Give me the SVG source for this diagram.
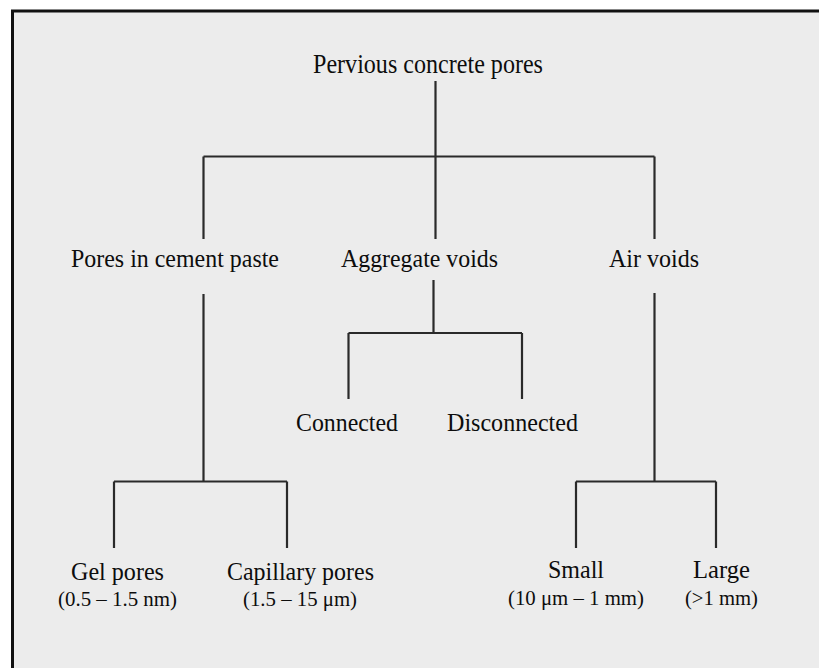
<svg xmlns="http://www.w3.org/2000/svg" width="819" height="668" viewBox="0 0 819 668">
  <style>
    text { font-family: "Liberation Serif", "Times New Roman", serif; fill: #0d0d0d; text-anchor: middle; }
    .t0 { font-size: 27px; }
    .t1 { font-size: 26px; }
    .t2 { font-size: 25px; }
    .t3 { font-size: 22px; }
    .conn line { stroke: #2a2a2a; stroke-width: 2.2; fill: none; }
  </style>
  <rect x="0" y="0" width="819" height="668" fill="#ffffff"/>
  <rect x="12.5" y="11" width="820" height="670" fill="#ececec" stroke="#111" stroke-width="3"/>

  <g id="connectors" class="conn">
    <line x1="435.5" y1="81" x2="435.5" y2="239"/>
    <line x1="203.5" y1="156.5" x2="654.5" y2="156.5"/>
    <line x1="203.5" y1="156.5" x2="203.5" y2="239"/>
    <line x1="654.5" y1="156.5" x2="654.5" y2="239"/>

    <line x1="203.5" y1="294" x2="203.5" y2="481.5"/>
    <line x1="114" y1="481.5" x2="287" y2="481.5"/>
    <line x1="114" y1="481.5" x2="114" y2="548"/>
    <line x1="287" y1="481.5" x2="287" y2="548"/>

    <line x1="433.5" y1="280" x2="433.5" y2="333"/>
    <line x1="348.5" y1="333" x2="522" y2="333"/>
    <line x1="348.5" y1="333" x2="348.5" y2="399"/>
    <line x1="522" y1="333" x2="522" y2="399"/>

    <line x1="654.5" y1="293" x2="654.5" y2="481.5"/>
    <line x1="576" y1="481.5" x2="716" y2="481.5"/>
    <line x1="576" y1="481.5" x2="576" y2="548"/>
    <line x1="716" y1="481.5" x2="716" y2="548"/>
  </g>

  <g id="root"><text class="t0" x="428" y="73" textLength="230" lengthAdjust="spacingAndGlyphs">Pervious concrete pores</text></g>
  <g id="cement"><text class="t1" x="175" y="267" textLength="208" lengthAdjust="spacingAndGlyphs">Pores in cement paste</text></g>
  <g id="aggregate"><text class="t1" x="419.5" y="267" textLength="157" lengthAdjust="spacingAndGlyphs">Aggregate voids</text></g>
  <g id="air"><text class="t1" x="654" y="267" textLength="90" lengthAdjust="spacingAndGlyphs">Air voids</text></g>
  <g id="connected"><text class="t1" x="347" y="431" textLength="102" lengthAdjust="spacingAndGlyphs">Connected</text></g>
  <g id="disconnected"><text class="t1" x="512.5" y="431" textLength="131" lengthAdjust="spacingAndGlyphs">Disconnected</text></g>
  <g id="gel">
    <text class="t2" x="117.5" y="580" textLength="93" lengthAdjust="spacingAndGlyphs">Gel pores</text>
    <text class="t3" x="117.5" y="606" textLength="119" lengthAdjust="spacingAndGlyphs">(0.5 – 1.5 nm)</text>
  </g>
  <g id="capillary">
    <text class="t2" x="300.5" y="580" textLength="147" lengthAdjust="spacingAndGlyphs">Capillary pores</text>
    <text class="t3" x="300" y="606" textLength="114" lengthAdjust="spacingAndGlyphs">(1.5 – 15 μm)</text>
  </g>
  <g id="small">
    <text class="t2" x="576" y="578" textLength="56" lengthAdjust="spacingAndGlyphs">Small</text>
    <text class="t3" x="576" y="605" textLength="136" lengthAdjust="spacingAndGlyphs">(10 μm – 1 mm)</text>
  </g>
  <g id="large">
    <text class="t2" x="721.5" y="578" textLength="57" lengthAdjust="spacingAndGlyphs">Large</text>
    <text class="t3" x="721.5" y="605" textLength="73" lengthAdjust="spacingAndGlyphs">(&gt;1 mm)</text>
  </g>
</svg>
